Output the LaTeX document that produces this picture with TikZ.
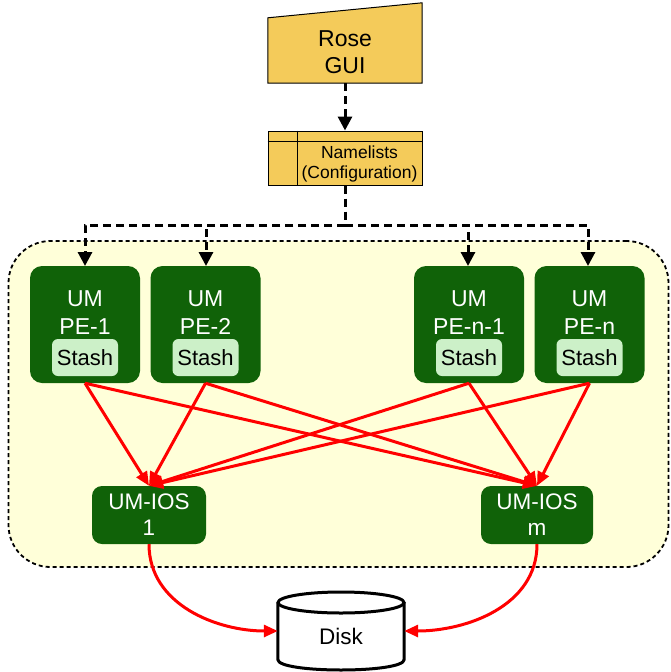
\documentclass[tikz,border=0pt]{standalone}
\usepackage{fontspec}
\setmainfont{Liberation Sans}
\usetikzlibrary{arrows.meta}
\definecolor{gold}{RGB}{244,203,90}
\definecolor{umgreen}{RGB}{16,98,8}
\definecolor{stashgreen}{RGB}{204,240,200}
\definecolor{groupfill}{RGB}{255,255,217}
\tikzset{
  pebox/.style={fill=umgreen, rounded corners=12pt, minimum width=110pt, minimum height=117pt, inner sep=0pt},
  iosbox/.style={fill=umgreen, rounded corners=10pt, minimum height=58pt, inner sep=0pt,
    text=white, align=center, font=\fontsize{22.5}{26}\selectfont},
  petext/.style={text=white, align=center, font=\fontsize{23}{28}\selectfont, inner sep=0pt},
  stashbox/.style={fill=stashgreen, rounded corners=6pt, minimum width=66pt, minimum height=37pt,
    inner sep=0pt, font=\fontsize{22}{24}\selectfont},
  ctrl/.style={line width=3pt, dash pattern=on 8pt off 5pt, -{Triangle[length=14pt,width=14pt]}},
  dataflow/.style={red, line width=3pt, -{Triangle[length=14pt,width=12pt]}},
}
\begin{document}
\begin{tikzpicture}[x=1pt, y=-1pt]
\useasboundingbox (0,0) rectangle (670,672);

% group of model processes
\node[draw, fill=groupfill, line width=1.8pt, dash pattern=on 4pt off 3pt,
      rounded corners=42pt, minimum width=660pt, minimum height=326pt, inner sep=0pt]
  (group) at (338.5,404) {};

% Rose GUI (manual input)
\node[minimum width=154pt, minimum height=65pt, inner sep=0pt] (rose) at (345,50.5) {};
\draw[fill=gold, line width=1pt] (rose.south west) -- (rose.south east)
  -- ([yshift=15pt]rose.north east) -- (rose.north west) -- cycle;
\node[align=center, font=\fontsize{23}{27}\selectfont] (rosetext) at (345,52) {Rose\\GUI};

% Namelists (internal storage)
\node[draw, fill=gold, line width=1pt, minimum width=154pt, minimum height=54pt, inner sep=0pt]
  (nl) at (345,158) {};
\draw[line width=1pt] ([yshift=-11pt]nl.north west) -- ([yshift=-11pt]nl.north east);
\draw[line width=1pt] ([xshift=30pt]nl.north west) -- ([xshift=30pt]nl.south west);
\node[align=center, font=\fontsize{17.5}{19.5}\selectfont, inner sep=0pt] (nltext) at (359.5,164)
  {Namelists\\(Configuration)};

% model processing elements
\foreach \n/\x/\lab in {pe1/85/PE-1, pe2/205.5/PE-2, pen1/469/PE-n-1, pen/589.5/PE-n}{
  \node[pebox] (\n) at (\x,324.5) {};
  \node[petext] (\n-t) at (\x,313) {UM\\\lab};
  \node[stashbox] (\n-s) at (\x,357.5) {Stash};
}

% IO servers
\node[iosbox, minimum width=114pt] (ios1) at (149,515) {UM-IOS\\1};
\node[iosbox, minimum width=112pt] (iosm) at (537,515) {UM-IOS\\m};

% disk
\node[minimum width=126pt, minimum height=78pt, inner sep=0pt] (disk) at (341,631) {};
\draw[line width=3pt, fill=white] (disk.west |- 0,602.5) -- (disk.west |- 0,659.5)
  .. controls +(0,14) and +(0,14) .. (disk.east |- 0,659.5) -- (disk.east |- 0,602.5);
\draw[line width=3pt, fill=white] (341,602.5) ellipse (63 and 10.5);
\node[font=\fontsize{22.5}{26}\selectfont] (disklabel) at (341,636) {Disk};

% configuration distribution
\coordinate (bus) at (345,225);
\draw[line width=3pt, dash pattern=on 8pt off 5pt] (nl.south) -- (bus);
\draw[ctrl] (bus) -| (85,266);
\draw[ctrl] (bus) -| (206,266);
\draw[ctrl] (bus) -| (468,266);
\draw[ctrl] (bus) -| (588,266);

% Rose to namelists
\draw[ctrl] (rose.south) -- (nl.north);

% output traffic
\foreach \n in {pe1,pe2,pen1,pen}{
  \draw[dataflow] (\n.south) -- (ios1.north);
  \draw[dataflow] (\n.south) -- (iosm.north);
}
\draw[dataflow] (ios1.south) to[out=-90, in=180] (disk.west);
\draw[dataflow] (iosm.south) to[out=-90, in=0] (disk.east);
\end{tikzpicture}
\end{document}
